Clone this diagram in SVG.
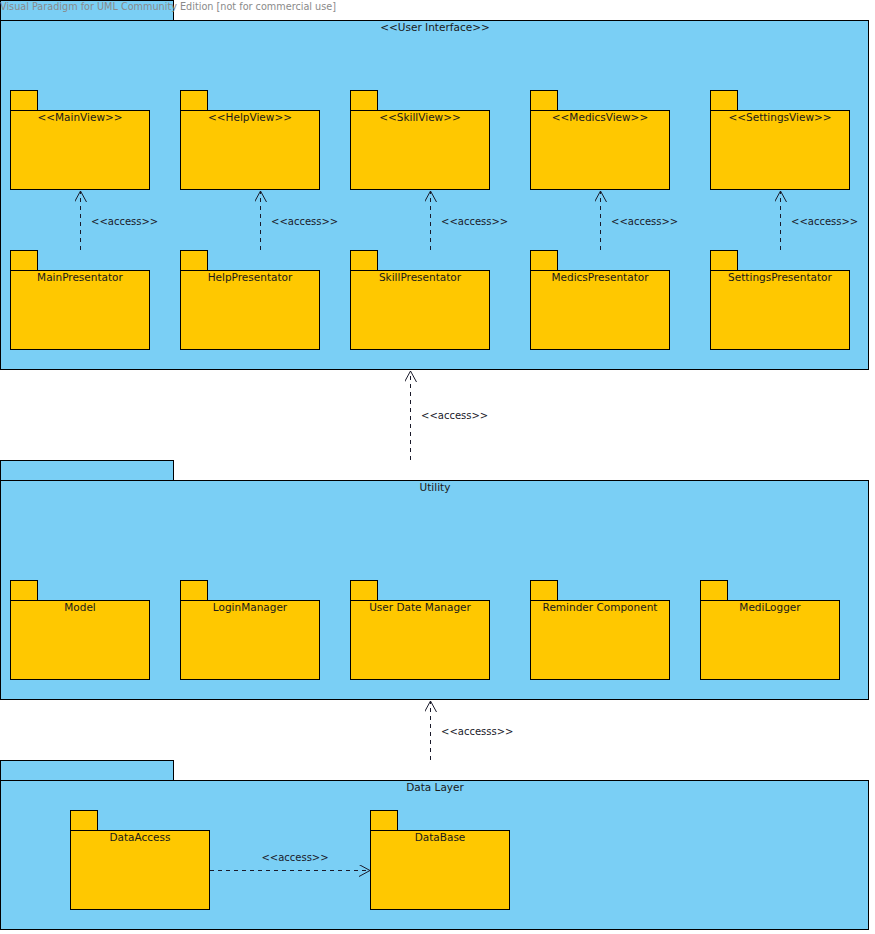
<svg xmlns="http://www.w3.org/2000/svg" width="875" height="934" viewBox="0 0 875 934">
<defs>
<style>
.outer{fill:#7ACFF5;stroke:#000;stroke-width:1}
.inner{fill:#FFC800;stroke:#000;stroke-width:1}
.t{font-family:"DejaVu Sans",sans-serif;font-size:10.5px;fill:#1a1a1a;text-anchor:middle}
.lbl{font-family:"DejaVu Sans",sans-serif;font-size:10px;fill:#1a1a2a}
.dep{fill:none;stroke:#1a1a2a;stroke-width:1;stroke-dasharray:4,4}
.wm{font-family:"DejaVu Sans",sans-serif;font-size:10px;fill:#8a8a8a}
</style>
<marker id="open" markerWidth="14" markerHeight="14" refX="11" refY="6" orient="auto" markerUnits="userSpaceOnUse">
<path d="M0,0 L11,6 L0,12" fill="none" stroke="#1a1a2a" stroke-width="1"/>
</marker>
</defs>
<rect width="875" height="934" fill="#fff"/>

<g id="ui">
<rect class="outer" x="0.5" y="0.5" width="173" height="20"/>
<rect class="outer" x="0.5" y="20.5" width="868" height="349"/>
<text class="t" x="435" y="31">&lt;&lt;User Interface&gt;&gt;</text>
</g>
<g id="mainview"><rect class="inner" x="10.5" y="90.5" width="27" height="20"/><rect class="inner" x="10.5" y="110.5" width="139" height="79"/><text class="t" x="80" y="121">&lt;&lt;MainView&gt;&gt;</text></g>
<g id="helpview"><rect class="inner" x="180.5" y="90.5" width="27" height="20"/><rect class="inner" x="180.5" y="110.5" width="139" height="79"/><text class="t" x="250" y="121">&lt;&lt;HelpView&gt;&gt;</text></g>
<g id="skillview"><rect class="inner" x="350.5" y="90.5" width="27" height="20"/><rect class="inner" x="350.5" y="110.5" width="139" height="79"/><text class="t" x="420" y="121">&lt;&lt;SkillView&gt;&gt;</text></g>
<g id="medicsview"><rect class="inner" x="530.5" y="90.5" width="27" height="20"/><rect class="inner" x="530.5" y="110.5" width="139" height="79"/><text class="t" x="600" y="121">&lt;&lt;MedicsView&gt;&gt;</text></g>
<g id="settingsview"><rect class="inner" x="710.5" y="90.5" width="27" height="20"/><rect class="inner" x="710.5" y="110.5" width="139" height="79"/><text class="t" x="780" y="121">&lt;&lt;SettingsView&gt;&gt;</text></g>

<g id="mainpresentator"><rect class="inner" x="10.5" y="250.5" width="27" height="20"/><rect class="inner" x="10.5" y="270.5" width="139" height="79"/><text class="t" x="80" y="281">MainPresentator</text></g>
<g id="helppresentator"><rect class="inner" x="180.5" y="250.5" width="27" height="20"/><rect class="inner" x="180.5" y="270.5" width="139" height="79"/><text class="t" x="250" y="281">HelpPresentator</text></g>
<g id="skillpresentator"><rect class="inner" x="350.5" y="250.5" width="27" height="20"/><rect class="inner" x="350.5" y="270.5" width="139" height="79"/><text class="t" x="420" y="281">SkillPresentator</text></g>
<g id="medicspresentator"><rect class="inner" x="530.5" y="250.5" width="27" height="20"/><rect class="inner" x="530.5" y="270.5" width="139" height="79"/><text class="t" x="600" y="281">MedicsPresentator</text></g>
<g id="settingspresentator"><rect class="inner" x="710.5" y="250.5" width="27" height="20"/><rect class="inner" x="710.5" y="270.5" width="139" height="79"/><text class="t" x="780" y="281">SettingsPresentator</text></g>

<g id="utility">
<rect class="outer" x="0.5" y="460.5" width="173" height="20"/>
<rect class="outer" x="0.5" y="480.5" width="868" height="219"/>
<text class="t" x="435" y="491">Utility</text>
</g>
<g id="model"><rect class="inner" x="10.5" y="580.5" width="27" height="20"/><rect class="inner" x="10.5" y="600.5" width="139" height="79"/><text class="t" x="80" y="611">Model</text></g>
<g id="loginmanager"><rect class="inner" x="180.5" y="580.5" width="27" height="20"/><rect class="inner" x="180.5" y="600.5" width="139" height="79"/><text class="t" x="250" y="611">LoginManager</text></g>
<g id="userdatemanager"><rect class="inner" x="350.5" y="580.5" width="27" height="20"/><rect class="inner" x="350.5" y="600.5" width="139" height="79"/><text class="t" x="420" y="611">User Date Manager</text></g>
<g id="remindercomponent"><rect class="inner" x="530.5" y="580.5" width="27" height="20"/><rect class="inner" x="530.5" y="600.5" width="139" height="79"/><text class="t" x="600" y="611">Reminder Component</text></g>
<g id="medilogger"><rect class="inner" x="700.5" y="580.5" width="27" height="20"/><rect class="inner" x="700.5" y="600.5" width="139" height="79"/><text class="t" x="770" y="611">MediLogger</text></g>

<g id="datalayer">
<rect class="outer" x="0.5" y="760.5" width="173" height="20"/>
<rect class="outer" x="0.5" y="780.5" width="868" height="149"/>
<text class="t" x="435" y="791">Data Layer</text>
</g>
<g id="dataaccess"><rect class="inner" x="70.5" y="810.5" width="27" height="20"/><rect class="inner" x="70.5" y="830.5" width="139" height="79"/><text class="t" x="140" y="841">DataAccess</text></g>
<g id="database"><rect class="inner" x="370.5" y="810.5" width="27" height="20"/><rect class="inner" x="370.5" y="830.5" width="139" height="79"/><text class="t" x="440" y="841">DataBase</text></g>

<g id="connectors">
<path class="dep" d="M80.5,250 L80.5,191" marker-end="url(#open)"/>
<path class="dep" d="M260.5,250 L260.5,191" marker-end="url(#open)"/>
<path class="dep" d="M430.5,250 L430.5,191" marker-end="url(#open)"/>
<path class="dep" d="M600.5,250 L600.5,191" marker-end="url(#open)"/>
<path class="dep" d="M780.5,250 L780.5,191" marker-end="url(#open)"/>
<text class="lbl" x="91" y="225">&lt;&lt;access&gt;&gt;</text>
<text class="lbl" x="271" y="225">&lt;&lt;access&gt;&gt;</text>
<text class="lbl" x="441" y="225">&lt;&lt;access&gt;&gt;</text>
<text class="lbl" x="611" y="225">&lt;&lt;access&gt;&gt;</text>
<text class="lbl" x="791" y="225">&lt;&lt;access&gt;&gt;</text>
<path class="dep" d="M410.5,460 L410.5,371" marker-end="url(#open)"/>
<text class="lbl" x="421" y="419">&lt;&lt;access&gt;&gt;</text>
<path class="dep" d="M430.5,760 L430.5,701" marker-end="url(#open)"/>
<text class="lbl" x="441" y="735">&lt;&lt;accesss&gt;&gt;</text>
<path class="dep" d="M210,870.5 L370,870.5" marker-end="url(#open)"/>
<text class="lbl" x="295" y="861" text-anchor="middle">&lt;&lt;access&gt;&gt;</text>
</g>

<text class="wm" x="0" y="10" textLength="336" lengthAdjust="spacingAndGlyphs">Visual Paradigm for UML Community Edition [not for commercial use]</text>
</svg>
